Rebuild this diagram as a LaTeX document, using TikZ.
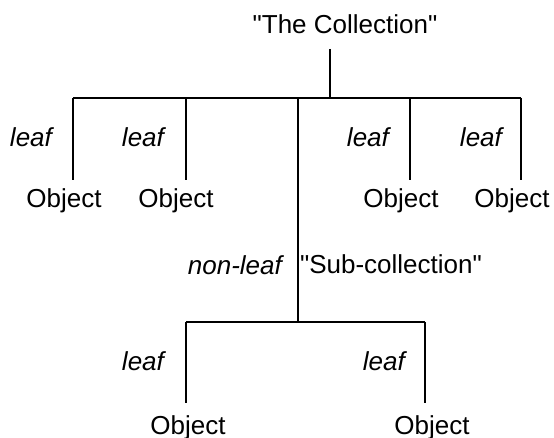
\documentclass[tikz,border=0pt]{standalone}
\usepackage{fontspec}
\setmainfont{Liberation Sans}[Ligatures=TeXOff]

\begin{document}
\begin{tikzpicture}[x=0.5pt,y=-0.5pt,line width=1.1pt,
  txt/.style={inner sep=0pt,font=\fontsize{13}{15}\selectfont},
  obj/.style={txt,anchor=base},
  kind/.style={txt,anchor=base east,font=\fontsize{13}{15}\selectfont\itshape}]
\useasboundingbox (0,0) rectangle (554,438);

\node[obj] (coll) at (345,34) {"The Collection"};
\coordinate (stem) at (330,49);
\coordinate (bar) at (330,98);
\coordinate (barl) at (73,98);
\coordinate (barr) at (521,98);

\coordinate (a) at (73,98);
\coordinate (b) at (186,98);
\coordinate (m) at (298,98);
\coordinate (c) at (410,98);
\coordinate (d) at (521,98);
\coordinate (ae) at (73,180);
\coordinate (be) at (186,180);
\coordinate (ce) at (410,180);
\coordinate (de) at (521,180);

\node[kind] (la) at (53,147) {leaf};
\node[kind] (lb) at (165,147) {leaf};
\node[kind] (lc) at (390,147) {leaf};
\node[kind] (ld) at (503,147) {leaf};

\node[obj] (oa) at (64,208) {Object};
\node[obj] (ob) at (176,208) {Object};
\node[obj] (oc) at (401,208) {Object};
\node[obj] (od) at (512,208) {Object};

\node[kind] (lm) at (283,275) {non-leaf};
\node[txt,anchor=base west] (sub) at (299,274) {"Sub-collection"};

\coordinate (sbar) at (298,322);
\coordinate (e) at (186,322);
\coordinate (f) at (425,322);
\coordinate (ee) at (186,403);
\coordinate (fe) at (425,403);

\node[kind] (le) at (165,371) {leaf};
\node[kind] (lf) at (406,371) {leaf};

\node[obj] (oe) at (188,435) {Object};
\node[obj] (of) at (432,435) {Object};

\draw (stem) -- (bar);
\draw (barl) -- (barr);
\draw (a) -- (ae);
\draw (b) -- (be);
\draw (c) -- (ce);
\draw (d) -- (de);
\draw (m) -- (sbar);
\draw (e) -- (f);
\draw (e) -- (ee);
\draw (f) -- (fe);

\end{tikzpicture}
\end{document}
